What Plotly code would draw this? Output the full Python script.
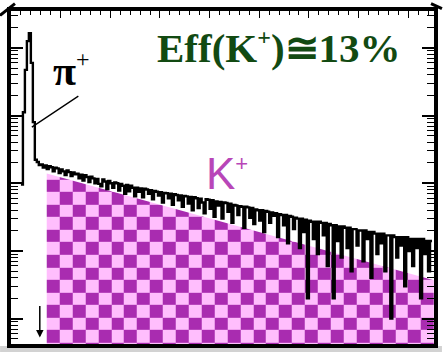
import numpy as np
import plotly.graph_objects as go

# ---------------- data ----------------
# pi+ peak: bin left edges (channel) and counts
peak_edges = [10, 12, 14, 16, 18, 20, 22, 24]
peak_counts = [96, 1117, 4740, 12600, 16500, 6000, 800, 222]

# K+ region spectrum: uniform bins starting at channel 26, width 2
spec_start = 26
spec_width = 2
spec_counts = [
    206, 185, 190, 170, 184, 162, 178, 172, 150, 170,
    166, 142, 160, 150, 132, 155, 146, 128, 144, 136,
    138, 118, 134, 110, 131, 124, 104, 125, 118, 100,
    116, 98, 90, 114, 106, 82, 108, 100, 86, 103,
    100, 78, 98, 92, 70, 94, 76, 92, 86, 64,
    86, 75, 84, 62, 83, 81, 70, 79, 58, 77,
    75, 66, 74, 52, 72, 71, 60, 70, 48, 69,
    67, 56, 66, 45, 65, 64, 50, 63, 40, 62,
    60, 43, 59, 52, 36, 58, 57, 42, 56, 32,
    54, 47, 53, 30, 52, 51, 38, 50, 26, 48,
    47, 34, 46, 45, 22, 45, 44, 31, 43, 25,
    41, 40, 28, 40, 19, 39, 38, 26, 37, 33,
    36, 16, 35, 34, 24, 34, 13, 33, 32, 21,
    31, 30, 11, 30, 19, 29, 2, 28, 27, 15,
    27, 9, 27, 26, 17, 26, 6, 25, 24, 2,
    24, 14, 23, 8, 23, 22, 11, 22, 5, 21,
    21, 12, 20, 20, 7, 20, 15, 19, 4, 19,
    18, 9, 18, 13, 18, 5, 17, 17, 1, 17,
    16, 8, 16, 12, 16, 3, 16, 10, 15, 6,
    15, 11, 15, 2, 15, 9, 14, 5, 14,
]

# K+ fit line (exponential), two end points
kfit_x = [36, 426]
kfit_counts = [139, 3.7]

x_range = [0, 426]
y_log_range = [-0.375, 4.545]

# ---------------- layout geometry ----------------
W, H = 445, 352
ML, MR, MT, MB = 11, 8, 7.5, 7.5
PW, PH = W - ML - MR, H - MT - MB


def px2paper(px, py):
    return (px - ML) / PW, (H - MB - py) / PH


# ---------------- histogram line ----------------
spec_edges = [spec_start + spec_width * k for k in range(len(spec_counts) + 1)]
hx = list(peak_edges) + spec_edges
hy = list(peak_counts) + list(spec_counts) + [spec_counts[-1]]

# ---------------- checkerboard fill (pattern) ----------------
sq_x = 13.0                                              # channels per square
sq_y = 12.7 * (y_log_range[1] - y_log_range[0]) / PH     # decades per square
col_edges = np.arange(kfit_x[0], x_range[1] + sq_x, sq_x)
row_anchor = 2.0555
row_edges_log = row_anchor + sq_y * (np.arange(0, 30) - 15)
nrows, ncols = len(row_edges_log) - 1, len(col_edges) - 1
z = [[1 if (i + j) % 2 == 0 else 0 for i in range(ncols)] for j in range(nrows)]

light = "#ffbefd"
dark = "#a92cb0"

fig = go.Figure()
fig.add_trace(go.Heatmap(
    x=col_edges, y=10 ** row_edges_log, z=z,
    colorscale=[[0, light], [1, dark]], zmin=0, zmax=1,
    showscale=False, hoverinfo="skip",
))
# white mask above the K+ fit line
ytop = 10 ** (y_log_range[1] + 1)
x0, x1 = kfit_x
c0, c1 = kfit_counts
fig.add_trace(go.Scatter(
    x=[x0 - 4, x0, x1, x1 + 4, x1 + 4, x0 - 4],
    y=[c0, c0, c1, c1, ytop, ytop],
    fill="toself", fillcolor="white", mode="lines",
    line=dict(width=0, color="white"), hoverinfo="skip",
))
fig.add_trace(go.Scatter(
    x=hx, y=hy, mode="lines", line=dict(color="black", width=2.4, shape="hv"),
    hoverinfo="skip",
))
# dummy trace for top axis
fig.add_trace(go.Scatter(x=[None], y=[None], xaxis="x2", yaxis="y", hoverinfo="skip"))

fig.update_layout(
    width=W, height=H,
    margin=dict(l=ML, r=MR, t=MT, b=MB, pad=0),
    paper_bgcolor="white", plot_bgcolor="white",
    showlegend=False,
    xaxis=dict(range=x_range, showline=True, linecolor="black", linewidth=3.5,
               mirror=True, ticks="", showticklabels=False, showgrid=False,
               zeroline=False),
    xaxis2=dict(range=x_range, overlaying="x", side="top", ticks="inside",
                ticklen=7, tickwidth=1.3, tickcolor="black", dtick=50, tick0=0,
                minor=dict(ticks="inside", ticklen=4, tickwidth=1.1, dtick=10,
                           tickcolor="black"),
                showticklabels=False, showgrid=False, zeroline=False, showline=False),
    yaxis=dict(type="log", range=y_log_range, showline=True, linecolor="black",
               linewidth=3.5, mirror="ticks", ticks="inside", ticklen=12,
               tickwidth=1.5, tickcolor="black", dtick=1,
               minor=dict(ticks="inside", ticklen=7, tickwidth=1.3, dtick="D1",
                          tickcolor="black"),
               showticklabels=False, showgrid=False, zeroline=False),
)

# ---------------- annotations ----------------
serif = "Liberation Serif, Times New Roman, serif"
sans = "Liberation Sans, Arial, sans-serif"

ex, ey = px2paper(281, 44)
fig.add_annotation(
    x=ex, y=ey, xref="paper", yref="paper", showarrow=False,
    text="<b>Eff(K<sup><span style='font-size:24px'>+</span></sup>)≅13%</b>",
    font=dict(family=serif, size=41, color="#124a12"),
    xanchor="center", yanchor="middle",
)

kx, ky = px2paper(229, 172)
fig.add_annotation(
    x=kx, y=ky, xref="paper", yref="paper", showarrow=False,
    text="K<sup><span style='font-size:22px'>+</span></sup>",
    font=dict(family=sans, size=44, color="#b846b8"),
    xanchor="center", yanchor="middle",
)

px_, py_ = px2paper(72, 67)
fig.add_annotation(
    x=px_, y=py_, xref="paper", yref="paper", showarrow=False,
    text="<b>π</b><sup><span style='font-size:24px'>+</span></sup>",
    font=dict(family=serif, size=42, color="black"),
    xanchor="center", yanchor="middle",
)

# pointer from pi+ label to the peak
hx_, hy_ = px2paper(32, 125)
fig.add_annotation(
    x=hx_, y=hy_, xref="paper", yref="paper", text="", showarrow=True,
    arrowhead=0, arrowwidth=1.3, arrowcolor="black", ax=48, ay=-32, standoff=0,
)
# small down arrow at lower left
dx_, dy_ = px2paper(40, 338)
fig.add_annotation(
    x=dx_, y=dy_, xref="paper", yref="paper", text="", showarrow=True,
    arrowhead=2, arrowsize=1, arrowwidth=1.5, arrowcolor="black", ax=0, ay=-33,
    standoff=0,
)

# ---------------- decorative frame pieces ----------------
a = px2paper(0, 12); b = px2paper(15, 0)
fig.add_shape(type="line", xref="paper", yref="paper", x0=a[0], y0=a[1], x1=b[0], y1=b[1],
              line=dict(color="black", width=3))
a = px2paper(434, 0); b = px2paper(445, 5)
fig.add_shape(type="line", xref="paper", yref="paper", x0=a[0], y0=a[1], x1=b[0], y1=b[1],
              line=dict(color="black", width=3))
a = px2paper(0, 346.5); b = px2paper(445, 353)
fig.add_shape(type="rect", xref="paper", yref="paper", x0=a[0], y0=a[1], x1=b[0], y1=b[1],
              line=dict(width=0), fillcolor="#d2d2d2", layer="below")

fig.write_html("out.html", config={"displayModeBar": False},
               post_script="document.body.style.margin='0px';")
